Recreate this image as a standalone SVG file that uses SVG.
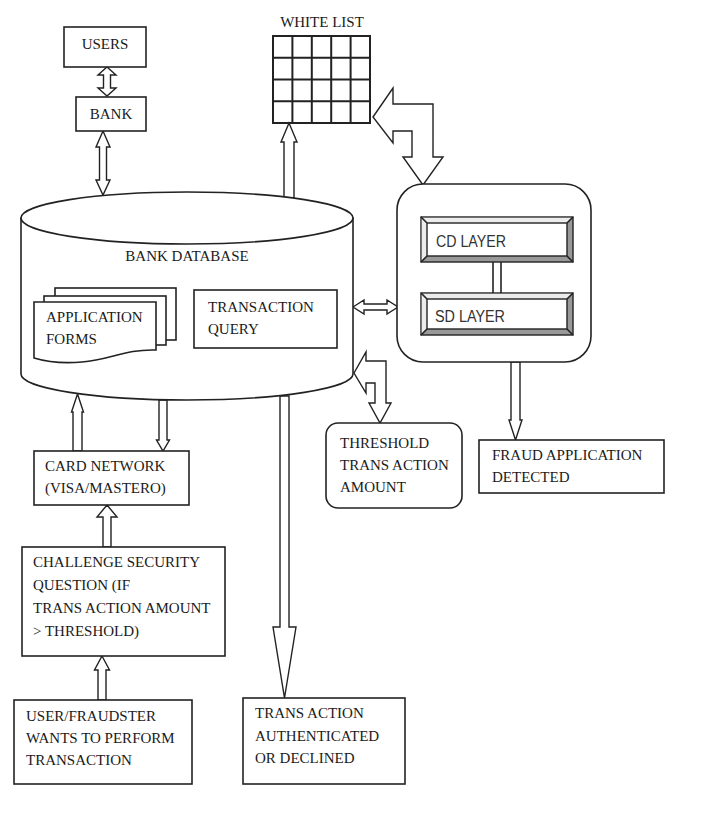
<svg xmlns="http://www.w3.org/2000/svg" width="708" height="817" viewBox="0 0 708 817">
  <style>
    .box { fill: #fff; stroke: #222; stroke-width: 1.6; }
    .line { fill: none; stroke: #222; stroke-width: 1.6; }
    .arrow { fill: #fff; stroke: #222; stroke-width: 1.4; stroke-linejoin: miter; }
    .t { font-family: "Liberation Serif", "Times New Roman", serif; font-size: 15px; fill: #1a1a1a; }
    .ts { font-family: "Liberation Sans", Arial, sans-serif; font-size: 16px; fill: #333; }
    .grid { fill: none; stroke: #222; stroke-width: 2; }
    .bevel-dark { fill: #999; stroke: #222; stroke-width: 1.4; }
    .bevel-light { fill: #ececec; }
  </style>
  <rect width="708" height="817" fill="#fff"/>

  <!-- connectors -->
  <g id="connectors">
    <!-- users <-> bank -->
    <polygon class="arrow" points="107,67 116,75 110.5,75 110.5,88 116,88 107,96 98,88 103.5,88 103.5,75 98,75"/>
    <!-- bank <-> database -->
    <polygon class="arrow" points="103,131 110,147 106.5,147 106.5,180 110,180 103,195 96,180 99.5,180 99.5,147 96,147"/>
    <!-- database -> white list -->
    <polygon class="arrow" points="289,123 297,142 294,142 294,198 284,198 284,142 281,142"/>
    <!-- white list <-> CD/SD container (bent) -->
    <polygon class="arrow" points="373,117 393,88 393,104 433,104 433,157 443,157 423,185 403,157 412,157 412,131 393,131 393,143"/>
    <!-- database <-> container -->
    <polygon class="arrow" points="353,307 364,300 364,304 387,304 387,300 398,307 387,314 387,310 364,310 364,314"/>
    <!-- database <-> threshold (bent) -->
    <polygon class="arrow" points="354,373 366,352 366,361 386,361 386,403 391,403 380,423 369,403 375,403 375,383 366,383 366,393"/>
    <!-- container -> fraud detected -->
    <polygon class="arrow" points="511,362 520,362 520,420 522,420 515.5,440 509,420 511,420"/>
    <!-- card network -> database -->
    <polygon class="arrow" points="77.5,394 83.5,412 82,412 82,451 73,451 73,412 71.5,412"/>
    <!-- database -> card network -->
    <polygon class="arrow" points="159,400 167,400 167,440 169.5,440 163,451 156.5,440 159,440"/>
    <!-- challenge -> card network -->
    <polygon class="arrow" points="107,505 117,517 111,517 111,547 103,547 103,517 97,517"/>
    <!-- user/fraudster -> challenge -->
    <polygon class="arrow" points="102,656 109.5,670 106,670 106,700 98,700 98,670 94.5,670"/>
    <!-- database -> transaction authenticated -->
    <polygon class="arrow" points="280,396 289,396 289,627 296,627 284.5,698 273,627 280,627"/>
  </g>

  <g id="users">
    <rect class="box" x="64" y="27" width="82" height="40"/>
    <text class="t" x="105" y="49" text-anchor="middle">USERS</text>
  </g>

  <g id="bank">
    <rect class="box" x="76" y="97" width="70" height="34"/>
    <text class="t" x="111" y="119" text-anchor="middle">BANK</text>
  </g>

  <g id="white-list">
    <text class="t" x="322" y="27" text-anchor="middle" font-size="14">WHITE LIST</text>
    <rect class="grid" x="273" y="36" width="97" height="87" fill="#fff"/>
    <path class="grid" d="M292.4,36 V123 M311.8,36 V123 M331.2,36 V123 M350.6,36 V123 M273,57.75 H370 M273,79.5 H370 M273,101.25 H370"/>
  </g>

  <g id="bank-database">
    <path class="box" d="M21,218 L21,374 A166,26 0 0 0 353,374 L353,218 Z"/>
    <ellipse class="box" cx="187" cy="218" rx="166" ry="26"/>
    <text class="t" x="187" y="261" text-anchor="middle">BANK DATABASE</text>

    <g id="application-forms">
      <rect class="box" x="55" y="288" width="121" height="52"/>
      <rect class="box" x="44" y="296" width="122" height="49"/>
      <path class="box" d="M34,302 H156 V350 C125,349 110,360 82,362 C60,364 44,361 34,358 Z"/>
      <text class="t" x="46" y="322">APPLICATION</text>
      <text class="t" x="46" y="344">FORMS</text>
    </g>

    <g id="transaction-query">
      <rect class="box" x="194" y="290" width="143" height="58"/>
      <text class="t" x="208" y="312">TRANSACTION</text>
      <text class="t" x="208" y="334">QUERY</text>
    </g>
  </g>

  <g id="detection-layers">
    <rect class="box" x="397" y="184" width="194" height="178" rx="26" ry="26"/>
    <!-- link between layers -->
    <path class="line" d="M493,262 V293 M501,262 V293" stroke-width="1.4"/>

    <g id="cd-layer">
      <rect class="bevel-dark" x="421" y="217" width="152" height="45"/>
      <polygon class="bevel-light" points="421.7,217.7 572.3,217.7 567,223 427,223 427,256 421.7,261.3"/>
      <rect x="427" y="223" width="140" height="33" fill="#fff" stroke="#222" stroke-width="1.4"/>
      <path class="line" stroke-width="1" d="M421,217 L427,223 M573,217 L567,223 M421,262 L427,256 M573,262 L567,256"/>
      <text class="ts" x="436" y="247" textLength="70" lengthAdjust="spacingAndGlyphs">CD LAYER</text>
    </g>

    <g id="sd-layer">
      <rect class="bevel-dark" x="421" y="293" width="152" height="42"/>
      <polygon class="bevel-light" points="421.7,293.7 572.3,293.7 567,299 427,299 427,329 421.7,334.3"/>
      <rect x="427" y="299" width="140" height="30" fill="#fff" stroke="#222" stroke-width="1.4"/>
      <path class="line" stroke-width="1" d="M421,293 L427,299 M573,293 L567,299 M421,335 L427,329 M573,335 L567,329"/>
      <text class="ts" x="435" y="322" textLength="70" lengthAdjust="spacingAndGlyphs">SD LAYER</text>
    </g>
  </g>

  <g id="threshold">
    <rect class="box" x="326" y="423" width="136" height="85" rx="12" ry="12"/>
    <text class="t" x="340" y="448">THRESHOLD</text>
    <text class="t" x="340" y="470">TRANS ACTION</text>
    <text class="t" x="340" y="492">AMOUNT</text>
  </g>

  <g id="fraud-detected">
    <rect class="box" x="479" y="440" width="185" height="53"/>
    <text class="t" x="492" y="460">FRAUD APPLICATION</text>
    <text class="t" x="492" y="482">DETECTED</text>
  </g>

  <g id="card-network">
    <rect class="box" x="34" y="451" width="155" height="54"/>
    <text class="t" x="45" y="471">CARD NETWORK</text>
    <text class="t" x="45" y="493">(VISA/MASTERO)</text>
  </g>

  <g id="challenge">
    <rect class="box" x="22" y="547" width="203" height="109"/>
    <text class="t" x="33" y="567">CHALLENGE SECURITY</text>
    <text class="t" x="33" y="590">QUESTION (IF</text>
    <text class="t" x="33" y="613">TRANS ACTION AMOUNT</text>
    <text class="t" x="33" y="636">&gt; THRESHOLD)</text>
  </g>

  <g id="user-fraudster">
    <rect class="box" x="14" y="700" width="178" height="84"/>
    <text class="t" x="26" y="721">USER/FRAUDSTER</text>
    <text class="t" x="26" y="743">WANTS TO PERFORM</text>
    <text class="t" x="26" y="765">TRANSACTION</text>
  </g>

  <g id="transaction-result">
    <rect class="box" x="243" y="698" width="162" height="86"/>
    <text class="t" x="255" y="718">TRANS ACTION</text>
    <text class="t" x="255" y="741">AUTHENTICATED</text>
    <text class="t" x="255" y="763">OR DECLINED</text>
  </g>
</svg>
